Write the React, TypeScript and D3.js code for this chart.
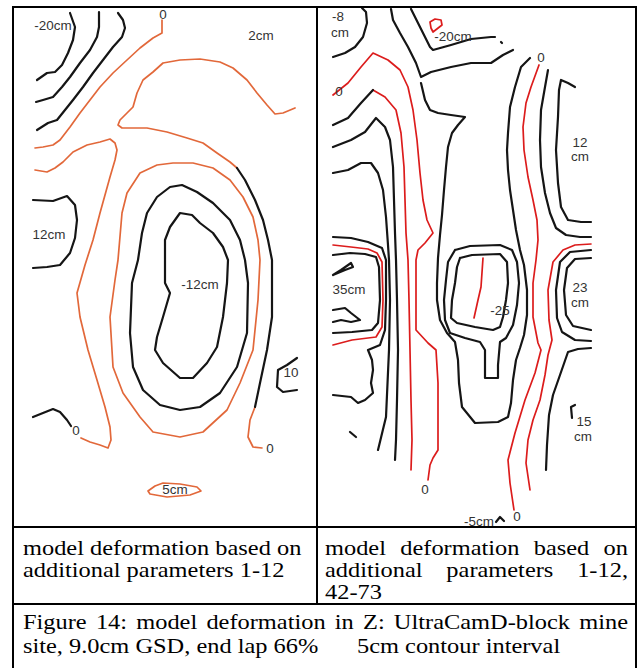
import * as d3 from "d3";
import React from "react";

type Pt = [number, number];
type Label = [string, number, number];

// panel units: x across the block, y down the block (both panels share 0..520 in y)

// ---- left panel: additional parameters 1-12 ----
const leftBlack: Pt[][] = [
  [[57,6],[62,20],[60,33],[55,46],[49,58],[42,65],[34,66],[24,73]],
  [[86,5],[86,20],[84,30],[77,43],[67,56],[57,70],[49,80],[40,90],[30,93],[23,95]],
  [[105,6],[110,13],[112,21],[109,30],[100,40],[90,53],[80,66],[70,80],[60,93],[52,103],[44,113],[35,116],[24,123]],
  [[20,193],[40,194],[54,189],[62,198],[64,213],[62,231],[57,246],[47,258],[34,260],[20,261]],
  [[224,161],[232,173],[242,193],[250,213],[255,233],[259,253],[259,283],[259,310],[254,343],[247,376],[242,400]],
  [[58,419],[54,413],[47,405],[40,402],[20,410]],
  [[125,253],[129,226],[134,206],[144,190],[157,180],[169,178],[184,185],[200,196],[217,213],[227,233],[232,253],[235,276],[234,326],[224,360],[207,386],[187,400],[167,403],[147,398],[130,383],[120,360],[117,326],[119,276],[125,253]],
  [[152,253],[152,233],[157,220],[167,206],[179,208],[187,216],[200,226],[210,240],[215,253],[214,276],[210,310],[204,340],[194,356],[180,371],[167,371],[150,356],[142,343],[144,330],[150,310],[157,286],[152,276],[152,253]],
  [[284,351],[274,358],[265,363],[264,380],[270,385],[284,383]],
];

const leftOrange: Pt[][] = [
  [[149,13],[149,26],[140,31],[127,41],[114,53],[100,66],[87,80],[77,93],[67,106],[57,120],[47,133],[40,138],[30,140],[22,141]],
  [[282,101],[270,106],[262,107],[254,98],[244,86],[234,73],[220,61],[207,55],[187,52],[167,53],[150,56],[140,65],[130,73],[124,86],[120,100],[114,106],[107,113],[105,118],[109,121],[117,121],[134,121],[154,125],[174,131],[190,136],[204,146],[217,155],[224,161]],
  [[242,400],[237,413],[235,430],[240,440],[249,441]],
  [[105,253],[109,206],[114,186],[127,166],[144,158],[160,156],[180,156],[200,161],[217,173],[230,190],[240,210],[245,233],[247,253],[245,293],[240,343],[227,376],[214,403],[190,425],[167,430],[140,425],[127,410],[110,386],[100,360],[97,310],[102,273],[105,253]],
  [[22,163],[34,165],[42,161],[50,155],[60,145],[74,138],[87,135],[97,132],[102,136],[104,143],[102,153],[97,170],[87,206],[80,233],[72,258],[64,286],[67,310],[75,343],[84,373],[92,400],[97,420],[98,433],[95,441],[87,438],[77,435],[68,431]],
  [[135,484],[142,479],[150,476],[167,477],[184,480],[188,484],[177,488],[154,490],[137,487],[135,484]],
];

const leftLabels: Label[] = [
  ["-20cm", 40, 19], ["0", 150, 8], ["2cm", 248, 29], ["12cm", 36, 228],
  ["-12cm", 187, 278], ["10", 278, 366], ["0", 63, 424], ["0", 257, 442], ["5cm", 162, 483],
];

// ---- right panel: additional parameters 1-12, 42-73 ----
const rightBlack: Pt[][] = [
  [[16,50],[28,46],[38,40],[46,30],[50,16],[49,5],[45,1]],
  [[16,118],[31,111],[44,96],[56,83]],
  [[16,140],[34,133],[48,125],[59,111],[68,120],[73,133],[76,160],[77,193],[78,226],[79,253],[80,293],[81,343],[80,393],[79,433],[78,453]],
  [[16,166],[31,163],[44,156],[54,156],[61,166],[66,183],[69,210],[71,238],[72,253],[73,293],[72,343],[69,410],[61,443]],
  [[16,248],[33,246],[48,247],[59,250],[62,260],[63,293],[61,316],[55,323],[35,325],[16,326]],
  [[16,230],[34,231],[51,235],[65,241],[69,253],[69,293],[68,323],[63,338],[51,343],[55,353],[56,363],[54,376],[56,386],[48,393],[41,396],[34,390],[16,388]],
  [[16,268],[24,263],[34,256],[36,260],[28,263],[16,268]],
  [[16,303],[28,301],[34,306],[43,313],[34,315],[24,313],[16,315]],
  [[33,425],[39,430]],
  [[74,2],[76,13],[83,26],[91,40],[99,56],[104,70],[114,65],[134,60],[154,56],[174,56],[186,48],[196,43]],
  [[94,2],[101,16],[108,30],[113,40],[116,43],[134,38],[154,32],[174,30],[178,30]],
  [[184,35],[185,36]],
  [[104,76],[108,93],[113,103],[121,106],[134,108],[148,110],[141,118],[135,126],[131,140],[129,160],[127,183],[125,208],[123,228],[121,251],[120,276],[120,293],[123,313],[130,326],[138,335],[141,353],[142,376],[145,400],[158,416],[181,415],[191,410],[194,396],[196,373],[199,353],[203,341],[207,328],[210,308],[210,283],[207,258],[203,243],[199,223],[196,203],[193,183],[191,163],[190,143],[191,126],[193,100],[198,80],[204,60],[213,51]],
  [[138,243],[153,239],[183,238],[195,243],[200,255],[202,276],[200,298],[196,318],[189,331],[183,335],[181,358],[181,371],[168,371],[168,343],[163,335],[148,331],[133,326],[128,313],[127,293],[129,273],[131,255],[138,243]],
  [[143,251],[155,248],[183,247],[190,255],[191,276],[189,293],[186,310],[183,320],[176,323],[158,320],[140,316],[134,311],[135,293],[138,276],[140,260],[143,251]],
  [[258,80],[251,76],[244,73],[242,83],[241,110],[239,143],[241,176],[244,200],[251,213],[264,215],[274,215]],
  [[231,63],[228,80],[224,103],[223,133],[224,160],[228,186],[233,206],[239,221],[249,228],[263,230],[274,230]],
  [[274,243],[253,245],[243,255],[239,283],[240,311],[245,325],[258,333],[274,334]],
  [[274,251],[258,252],[250,261],[247,283],[249,308],[256,319],[274,323]],
  [[274,341],[261,342],[251,345],[243,368],[236,388],[232,408],[230,438],[229,463]],
  [[258,398],[254,400],[255,411]],
  [[179,515],[183,510],[187,514]],
];

const rightRed: Pt[][] = [
  [[16,88],[31,76],[44,60],[56,46],[71,53],[83,63],[91,80],[96,103],[100,133],[103,166],[106,193],[110,213],[116,226],[108,236],[101,243],[99,253],[99,293],[99,323],[111,336],[119,343],[121,376],[121,413],[121,443],[116,451],[113,458],[111,473]],
  [[56,83],[68,90],[79,103],[84,126],[87,160],[88,193],[89,226],[91,253],[92,293],[93,343],[94,393],[95,433],[94,463]],
  [[16,238],[34,240],[51,242],[60,246],[65,255],[66,293],[65,320],[59,330],[35,333],[16,338]],
  [[113,15],[118,12],[124,13],[125,18],[116,25],[114,21],[113,15]],
  [[166,251],[164,280],[161,293],[157,311]],
  [[222,58],[214,80],[209,96],[206,120],[207,143],[211,170],[216,193],[220,213],[221,233],[219,253],[216,276],[216,310],[221,336],[224,343],[218,366],[208,393],[198,426],[191,453],[193,476],[197,503]],
  [[274,237],[258,238],[246,243],[236,255],[231,283],[232,313],[235,333],[231,348],[228,368],[223,393],[216,413],[211,433],[209,456],[213,483]],
];

const rightLabels: Label[] = [
  ["-8", 21, 10], ["cm", 23, 26], ["0", 22, 85], ["-20cm", 136, 30], ["0", 224, 51],
  ["12", 263, 136], ["cm", 263, 150], ["35cm", 32, 283], ["-25", 183, 304],
  ["23", 263, 281], ["cm", 263, 296], ["15", 267, 415], ["cm", 266, 430],
  ["0", 108, 483], ["-5cm", 162, 515], ["0", 200, 510],
];

// ---- table text ----
const captionLeft = ["model deformation based on", "additional parameters 1-12"];
const captionRight = ["model deformation based on", "additional parameters 1-12,", "42-73"];
const figureCaption = ["Figure 14: model deformation in Z: UltraCamD-block mine", "site, 9.0cm GSD, end lap 66%"];
const captionNote = "5cm contour interval";

const W = 638;
const H = 668;
const TOP = 7;
const LEFT = 13;
const MID = 317;
const RIGHT = 636;
const ROW1 = 527;
const ROW2 = 604;

const SERIF = '"Liberation Serif", "Times New Roman", serif';
const SANS = '"Liberation Sans", Arial, sans-serif';
const CAP_SIZE = 20;
const SX = 1.22;

const BLACK = "#151515";
const ORANGE = "#e2683a";
const RED = "#dc1c1c";

let ctx: CanvasRenderingContext2D | null = null;
function measure(s: string) {
  if (!ctx) ctx = document.createElement("canvas").getContext("2d");
  if (!ctx) return s.length * CAP_SIZE * 0.45;
  ctx.font = `${CAP_SIZE}px ${SERIF}`;
  return ctx.measureText(s).width;
}

function TextLine({ text, x0, x1, y, justify }: { text: string; x0: number; x1: number; y: number; justify?: boolean }) {
  if (!justify) {
    return (
      <text transform={`translate(${x0},${y}) scale(${SX},1)`} fontFamily={SERIF} fontSize={CAP_SIZE}>
        {text}
      </text>
    );
  }
  const words = text.split(" ");
  const widths = words.map((w) => measure(w) * SX);
  const gap = (x1 - x0 - d3.sum(widths)) / (words.length - 1);
  let x = x0;
  return (
    <g>
      {words.map((w, i) => {
        const el = (
          <text key={i} transform={`translate(${x},${y}) scale(${SX},1)`} fontFamily={SERIF} fontSize={CAP_SIZE}>
            {w}
          </text>
        );
        x += widths[i] + gap;
        return el;
      })}
    </g>
  );
}

function Panel({ x0, x1, black, colored, color, labels }: { x0: number; x1: number; black: Pt[][]; colored: Pt[][]; color: string; labels: Label[] }) {
  const xs = d3.scaleLinear().domain([0, x1 - x0]).range([x0, x1]);
  const ys = d3.scaleLinear().domain([0, ROW1 - TOP]).range([TOP, ROW1]);
  const line = d3.line<Pt>().x((d) => xs(d[0])).y((d) => ys(d[1]));
  return (
    <g>
      {colored.map((c, i) => (
        <path key={"c" + i} d={line(c) || ""} fill="none" stroke={color} strokeWidth={1.7} strokeLinejoin="round" strokeLinecap="round" />
      ))}
      {black.map((c, i) => (
        <path key={"b" + i} d={line(c) || ""} fill="none" stroke={BLACK} strokeWidth={2.2} strokeLinejoin="round" strokeLinecap="round" />
      ))}
      {labels.map(([t, x, y], i) => (
        <text
          key={"l" + i}
          transform={`translate(${xs(x)},${ys(y)}) scale(1.12,1)`}
          textAnchor="middle"
          dominantBaseline="central"
          fontFamily={SANS}
          fontSize={12}
          fill="#333"
        >
          {t}
        </text>
      ))}
    </g>
  );
}

export default function App() {
  return (
    <svg width={W} height={H} viewBox={`0 0 ${W} ${H}`} style={{ position: "absolute", left: 0, top: 0, background: "#fff" }}>
      <Panel x0={LEFT} x1={MID} black={leftBlack} colored={leftOrange} color={ORANGE} labels={leftLabels} />
      <Panel x0={MID} x1={RIGHT} black={rightBlack} colored={rightRed} color={RED} labels={rightLabels} />

      {/* table rules */}
      <g stroke="#000" strokeWidth={2}>
        <line x1={LEFT} x2={RIGHT} y1={TOP} y2={TOP} />
        <line x1={LEFT} x2={LEFT} y1={TOP - 1} y2={H} />
        <line x1={RIGHT} x2={RIGHT} y1={TOP - 1} y2={H} />
        <line x1={MID} x2={MID} y1={TOP} y2={ROW2} />
        <line x1={LEFT} x2={RIGHT} y1={ROW1} y2={ROW1} />
        <line x1={LEFT} x2={RIGHT} y1={ROW2} y2={ROW2} />
      </g>

      <TextLine text={captionLeft[0]} x0={23} x1={304} y={555} />
      <TextLine text={captionLeft[1]} x0={23} x1={304} y={577} />
      <TextLine text={captionRight[0]} x0={325} x1={628} y={555} justify />
      <TextLine text={captionRight[1]} x0={325} x1={628} y={577} justify />
      <TextLine text={captionRight[2]} x0={325} x1={628} y={599} />
      <TextLine text={figureCaption[0]} x0={23} x1={628} y={629} justify />
      <TextLine text={figureCaption[1]} x0={23} x1={628} y={653} />
      <TextLine text={captionNote} x0={357} x1={628} y={653} />
    </svg>
  );
}
